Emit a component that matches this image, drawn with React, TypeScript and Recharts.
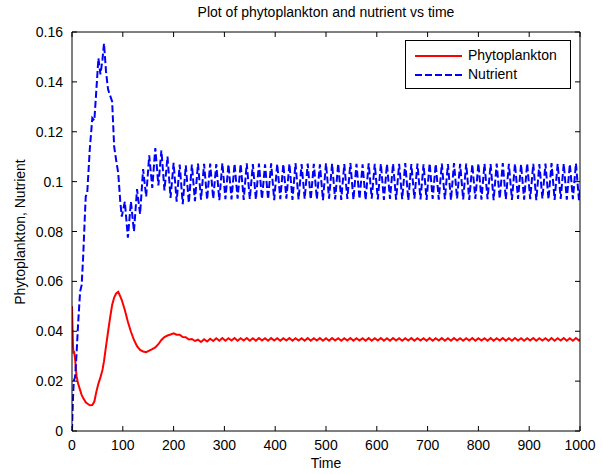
import React from 'react';
import { LineChart, Line, XAxis, YAxis, Legend } from 'recharts';

// ---------- data ----------
// time sampling (transient, oscillation build-up, steady state)
const TIME_EARLY = [0, 1, 2, 3, 4, 6, 9, 12, 16, 19, 22, 25, 27, 30, 35, 40, 44, 48, 52, 56, 60, 63, 67, 71, 75, 79, 83, 87, 91, 95];
const TIME_TRANS = [98, 104, 110, 116, 122, 128, 134, 140, 146, 152, 158, 164, 170, 176, 182, 188, 194, 200, 206, 212, 218, 224, 230, 236, 242, 248, 254, 260];
const TIME_STEADY = [
  266, 272, 278, 284, 290, 296, 302, 308, 314, 320,
  326, 332, 338, 344, 350, 356, 362, 368, 374, 380,
  386, 392, 398, 404, 410, 416, 422, 428, 434, 440,
  446, 452, 458, 464, 470, 476, 482, 488, 494, 500,
  506, 512, 518, 524, 530, 536, 542, 548, 554, 560,
  566, 572, 578, 584, 590, 596, 602, 608, 614, 620,
  626, 632, 638, 644, 650, 656, 662, 668, 674, 680,
  686, 692, 698, 704, 710, 716, 722, 728, 734, 740,
  746, 752, 758, 764, 770, 776, 782, 788, 794, 800,
  806, 812, 818, 824, 830, 836, 842, 848, 854, 860,
  866, 872, 878, 884, 890, 896, 902, 908, 914, 920,
  926, 932, 938, 944, 950, 956, 962, 968, 974, 980,
  986, 992, 998, 1000,
];

const PHYTO_EARLY = [
  0.05, 0.042, 0.034, 0.031, 0.032, 0.029, 0.022, 0.019, 0.0164, 0.0145,
  0.0132, 0.0122, 0.0115, 0.011, 0.0103, 0.0104, 0.0118, 0.0158, 0.019, 0.0215,
  0.0245, 0.028, 0.034, 0.0398, 0.0455, 0.0505, 0.0535, 0.0552, 0.0558, 0.054,
];
const PHYTO_TRANS = [
  0.0525, 0.0485, 0.0438, 0.0398, 0.0365, 0.034, 0.0325, 0.0319, 0.0316, 0.0322,
  0.0328, 0.0335, 0.0348, 0.0365, 0.0377, 0.0383, 0.0387, 0.0392, 0.0386, 0.0386,
  0.0377, 0.0376, 0.0367, 0.0369, 0.0361, 0.0366, 0.0357, 0.0368,
];
const PHYTO_STEADY = [
  0.0359, 0.037, 0.0361, 0.0372, 0.0362, 0.0373, 0.0362, 0.0372, 0.0363, 0.0373,
  0.0362, 0.0372, 0.0363, 0.0373, 0.0362, 0.0372, 0.0362, 0.0373, 0.0363, 0.0372,
  0.0362, 0.0373, 0.0363, 0.0372, 0.0362, 0.0372, 0.0363, 0.0373, 0.0362, 0.0372,
  0.0363, 0.0372, 0.0362, 0.0373, 0.0362, 0.0372, 0.0363, 0.0373, 0.0362, 0.0372,
  0.0362, 0.0373, 0.0363, 0.0372, 0.0362, 0.0372, 0.0363, 0.0373, 0.0362, 0.0372,
  0.0363, 0.0372, 0.0362, 0.0373, 0.0362, 0.0372, 0.0363, 0.0373, 0.0362, 0.0372,
  0.0362, 0.0373, 0.0363, 0.0372, 0.0362, 0.0372, 0.0363, 0.0373, 0.0362, 0.0372,
  0.0363, 0.0372, 0.0362, 0.0373, 0.0362, 0.0372, 0.0363, 0.0373, 0.0362, 0.0372,
  0.0362, 0.0373, 0.0363, 0.0372, 0.0362, 0.0372, 0.0363, 0.0373, 0.0362, 0.0372,
  0.0363, 0.0372, 0.0362, 0.0373, 0.0362, 0.0372, 0.0363, 0.0373, 0.0362, 0.0372,
  0.0362, 0.0373, 0.0363, 0.0372, 0.0362, 0.0372, 0.0363, 0.0373, 0.0362, 0.0372,
  0.0363, 0.0372, 0.0362, 0.0373, 0.0362, 0.0372, 0.0363, 0.0373, 0.0362, 0.0372,
  0.0362, 0.0373, 0.0363, 0.0368,
];

const NUTRIENT_EARLY = [
  0, 0.007, 0.013, 0.018, 0.0205, 0.0215, 0.031, 0.043, 0.056, 0.0585,
  0.07, 0.0846, 0.094, 0.0955, 0.113, 0.1255, 0.1245, 0.137, 0.1495, 0.143,
  0.149, 0.1554, 0.144, 0.137, 0.1345, 0.1322, 0.114, 0.1085, 0.1035, 0.092,
];
const NUTRIENT_TRANS = [
  0.086, 0.092, 0.0775, 0.092, 0.08, 0.097, 0.087, 0.105, 0.094, 0.1105,
  0.0975, 0.1135, 0.0985, 0.1125, 0.0965, 0.11, 0.0935, 0.1075, 0.092, 0.1068,
  0.091, 0.1065, 0.0915, 0.1068, 0.0922, 0.1072, 0.0928, 0.1071,
];
const NUTRIENT_STEADY = [
  0.0928, 0.1072, 0.0931, 0.107, 0.0926, 0.1074, 0.093, 0.1069, 0.0929, 0.1072,
  0.0932, 0.1071, 0.0927, 0.1073, 0.093, 0.107, 0.0928, 0.1072, 0.0931, 0.1069,
  0.0929, 0.1073, 0.0926, 0.1071, 0.093, 0.107, 0.0932, 0.1072, 0.0927, 0.1074,
  0.0929, 0.107, 0.0931, 0.1072, 0.0928, 0.1071, 0.093, 0.1069, 0.0926, 0.1073,
  0.0932, 0.1071, 0.0929, 0.1072, 0.0927, 0.107, 0.0931, 0.1074, 0.0928, 0.1071,
  0.093, 0.1069, 0.0926, 0.1073, 0.0932, 0.1071, 0.0929, 0.1072, 0.0927, 0.107,
  0.0931, 0.1072, 0.0928, 0.1071, 0.093, 0.1074, 0.0926, 0.107, 0.0932, 0.1072,
  0.0929, 0.1069, 0.0927, 0.1073, 0.0931, 0.1071, 0.0928, 0.1072, 0.093, 0.107,
  0.0926, 0.1074, 0.0932, 0.1071, 0.0929, 0.1072, 0.0927, 0.1069, 0.0931, 0.1073,
  0.0928, 0.1071, 0.093, 0.107, 0.0926, 0.1072, 0.0932, 0.1074, 0.0929, 0.1071,
  0.0927, 0.1072, 0.0931, 0.1069, 0.0928, 0.1073, 0.093, 0.1071, 0.0926, 0.107,
  0.0932, 0.1072, 0.0929, 0.1074, 0.0927, 0.1071, 0.0931, 0.1072, 0.0928, 0.107,
  0.093, 0.1073, 0.0926, 0.097,
];

const X_TICKS = [0, 100, 200, 300, 400, 500, 600, 700, 800, 900, 1000];
const Y_TICKS = [0, 0.02, 0.04, 0.06, 0.08, 0.1, 0.12, 0.14, 0.16];

const TITLE = 'Plot of phytoplankton and nutrient vs time';
const X_LABEL = 'Time';
const Y_LABEL = 'Phytoplankton, Nutrient';

const SERIES = [
  { key: 'phyto', name: 'Phytoplankton', color: '#ff0000', dash: undefined as string | undefined },
  { key: 'nutrient', name: 'Nutrient', color: '#0000ff', dash: '7 3' },
];

const TIME = [...TIME_EARLY, ...TIME_TRANS, ...TIME_STEADY];
const PHYTO = [...PHYTO_EARLY, ...PHYTO_TRANS, ...PHYTO_STEADY];
const NUTRIENT = [...NUTRIENT_EARLY, ...NUTRIENT_TRANS, ...NUTRIENT_STEADY];
const DATA = TIME.map((t, i) => ({ t, phyto: PHYTO[i], nutrient: NUTRIENT[i] }));

// ---------- styling ----------
const FONT = '"Liberation Sans", Arial, Helvetica, sans-serif';
const FS = 14;
const TICK_LEN = 5;

const BottomTick = (props: any) => {
  const { x, y, payload } = props;
  return (
    <g>
      <line x1={x} y1={y} x2={x} y2={y - TICK_LEN} stroke="#000" strokeWidth={1} />
      <text x={x} y={y + 19} textAnchor="middle" fontSize={FS} fontFamily={FONT} fill="#000">
        {String(payload.value)}
      </text>
    </g>
  );
};
const TopTick = (props: any) => {
  const { x, y } = props;
  return <line x1={x} y1={y} x2={x} y2={y + TICK_LEN} stroke="#000" strokeWidth={1} />;
};
const LeftTick = (props: any) => {
  const { x, y, payload } = props;
  return (
    <g>
      <line x1={x} y1={y} x2={x + TICK_LEN} y2={y} stroke="#000" strokeWidth={1} />
      <text x={x - 9} y={y + 5} textAnchor="end" fontSize={FS} fontFamily={FONT} fill="#000">
        {String(payload.value)}
      </text>
    </g>
  );
};
const RightTick = (props: any) => {
  const { x, y } = props;
  return <line x1={x} y1={y} x2={x - TICK_LEN} y2={y} stroke="#000" strokeWidth={1} />;
};

const LegendBox = () => (
  <div
    style={{
      width: 166,
      height: 49,
      boxSizing: 'border-box',
      border: '1px solid #000',
      background: '#fff',
      fontFamily: FONT,
      fontSize: FS,
      color: '#000',
      paddingTop: 5,
    }}
  >
    {SERIES.map((s) => (
      <div key={s.key} style={{ display: 'flex', alignItems: 'center', height: 19 }}>
        <svg width={62} height={10} style={{ display: 'block' }}>
          <line x1={9} y1={5} x2={56} y2={5} stroke={s.color} strokeWidth={2} strokeDasharray={s.dash} />
        </svg>
        <span style={{ lineHeight: '19px' }}>{s.name}</span>
      </div>
    ))}
  </div>
);

export default function App() {
  return (
    <div style={{ position: 'absolute', left: 0, top: 0, width: 603, height: 474, background: '#fff' }}>
      <LineChart
        width={603}
        height={474}
        data={DATA}
        margin={{ top: 31, right: 22, bottom: 13, left: 22 }}
      >
        <XAxis
          xAxisId="b"
          dataKey="t"
          type="number"
          domain={[0, 1000]}
          ticks={X_TICKS}
          interval={0}
          allowDataOverflow
          height={30}
          tickSize={0}
          tickMargin={0}
          tickLine={false}
          axisLine={{ stroke: '#000', strokeWidth: 1 }}
          tick={<BottomTick />}
        />
        <XAxis
          xAxisId="tp"
          orientation="top"
          dataKey="t"
          type="number"
          domain={[0, 1000]}
          ticks={X_TICKS}
          interval={0}
          allowDataOverflow
          height={1}
          tickSize={0}
          tickMargin={0}
          tickLine={false}
          axisLine={{ stroke: '#000', strokeWidth: 1 }}
          tick={<TopTick />}
        />
        <YAxis
          yAxisId="l"
          type="number"
          domain={[0, 0.16]}
          ticks={Y_TICKS}
          interval={0}
          allowDataOverflow
          width={50}
          tickSize={0}
          tickMargin={0}
          tickLine={false}
          axisLine={{ stroke: '#000', strokeWidth: 1 }}
          tick={<LeftTick />}
        />
        <YAxis
          yAxisId="r"
          orientation="right"
          type="number"
          domain={[0, 0.16]}
          ticks={Y_TICKS}
          interval={0}
          allowDataOverflow
          width={1}
          tickSize={0}
          tickMargin={0}
          tickLine={false}
          axisLine={{ stroke: '#000', strokeWidth: 1 }}
          tick={<RightTick />}
        />
        {SERIES.map((s) => (
          <Line
            key={s.key}
            xAxisId="b"
            yAxisId="l"
            type="linear"
            dataKey={s.key}
            name={s.name}
            stroke={s.color}
            strokeWidth={2}
            strokeDasharray={s.dash}
            dot={false}
            activeDot={false}
            isAnimationActive={false}
          />
        ))}
        <Legend
          layout="vertical"
          align="center"
          verticalAlign="middle"
          content={() => <LegendBox />}
          wrapperStyle={{ left: 405, top: 40, width: 166, height: 49 }}
        />
      </LineChart>
      <div
        style={{
          position: 'absolute',
          left: 72,
          width: 508,
          top: 3,
          textAlign: 'center',
          fontFamily: FONT,
          fontSize: 14,
          lineHeight: '18px',
          color: '#000',
        }}
      >
        {TITLE}
      </div>
      <div
        style={{
          position: 'absolute',
          left: 72,
          width: 508,
          top: 454,
          textAlign: 'center',
          fontFamily: FONT,
          fontSize: FS,
          lineHeight: '18px',
          color: '#000',
        }}
      >
        {X_LABEL}
      </div>
      <div
        style={{
          position: 'absolute',
          left: 20 - 150,
          top: 232 - 9,
          width: 300,
          height: 18,
          textAlign: 'center',
          fontFamily: FONT,
          fontSize: FS,
          lineHeight: '18px',
          color: '#000',
          transform: 'rotate(-90deg)',
          transformOrigin: '150px 9px',
        }}
      >
        {Y_LABEL}
      </div>
    </div>
  );
}
